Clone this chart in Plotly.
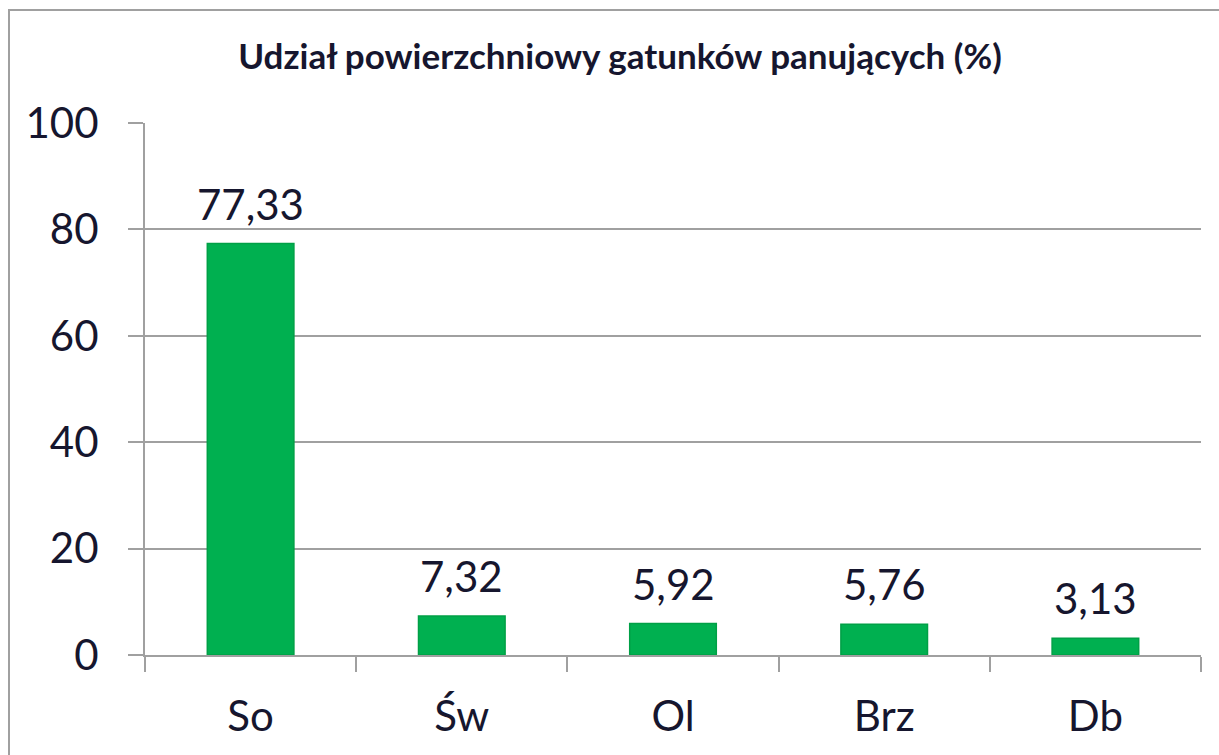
import plotly.graph_objects as go

GREEN  = "#00B050"
EDGE   = "#00A046"
GRID   = "#A0A0A0"
TEXT   = "#16162E"

species = ["So", "Św", "Ol", "Brz", "Db"]
share   = [77.33, 7.32, 5.92, 5.76, 3.13]
y_ticks = [0, 20, 40, 60, 80, 100]

FONT = "Lato, 'Open Sans', sans-serif"

fig = go.Figure(go.Bar(
    x=species, y=share,
    width=0.41,
    marker=dict(color=GREEN, line=dict(color=EDGE, width=1.5)),
))

# value labels sit a bit higher above the bars than plotly's outside text
for s, v in zip(species, share):
    fig.add_annotation(
        x=s, y=v, text=f"{v:.2f}".replace(".", ","),
        showarrow=False, yanchor="bottom", yshift=13,
        font=dict(size=42, color=TEXT, family=FONT),
    )

fig.update_layout(
    width=1219, height=755,
    paper_bgcolor="white", plot_bgcolor="white",
    margin=dict(l=145, r=18, t=123, b=100, autoexpand=False),
    showlegend=False,
    bargap=0.59,
    title=dict(
        text="<b>Udział powierzchniowy gatunków panujących (%)</b>",
        font=dict(size=35, color=TEXT, family=FONT),
        x=0.5086, xanchor="center", y=0.925, yanchor="middle",
    ),
    xaxis=dict(
        automargin=False,
        showgrid=False, zeroline=False,
        showline=True, linecolor=GRID, linewidth=2,
        ticks="outside", tickson="boundaries", ticklen=15,
        tickcolor=GRID, tickwidth=2,
        tickfont=dict(size=42, color=TEXT, family=FONT),
        ticklabelstandoff=24,
    ),
    yaxis=dict(
        automargin=False,
        range=[0, 100], tickvals=y_ticks,
        showgrid=True, gridcolor=GRID, gridwidth=2,
        zeroline=False,
        showline=True, linecolor=GRID, linewidth=2,
        ticks="outside", ticklen=15, tickcolor=GRID, tickwidth=2,
        tickfont=dict(size=42, color=TEXT, family=FONT),
        ticklabelstandoff=21,
    ),
)

# outer chart frame (right and bottom edges sit outside the picture)
fig.add_shape(
    type="rect", xref="paper", yref="paper",
    x0=(9 - 145) / 1056, x1=(1260 - 145) / 1056,
    y0=(655 - 790) / 532, y1=(655 - 10) / 532,
    line=dict(color=GRID, width=2), fillcolor="rgba(0,0,0,0)",
    layer="below",
)

fig.write_html(
    "out.html",
    config={"displayModeBar": False},
    post_script="document.body.style.margin='0';",
)
